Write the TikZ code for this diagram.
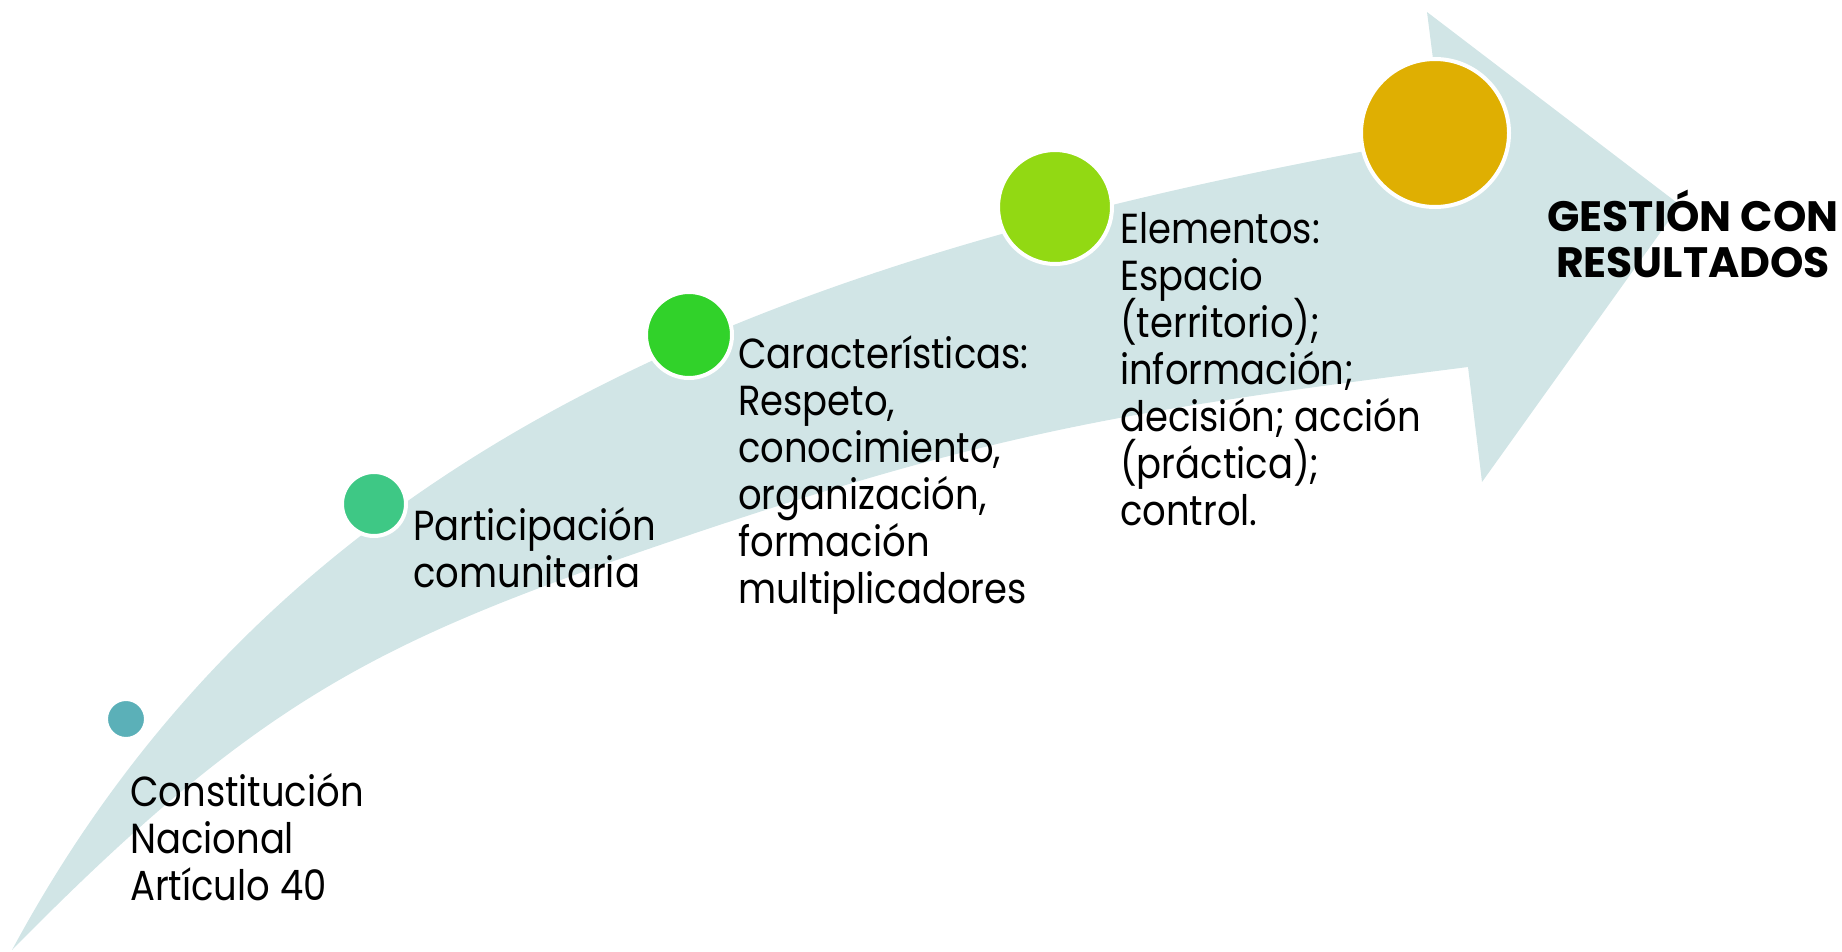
\documentclass[tikz,border=0pt]{standalone}
\usepackage{fontspec}
\setmainfont{Poppins}[FakeStretch=0.88]
\newfontfamily\goalfont{Poppins}
\newcommand\fixedlines{\lineskiplimit=-40pt\relax}
\definecolor{bandfill}{RGB}{209,229,230}
\definecolor{dotA}{RGB}{91,176,184}
\definecolor{dotB}{RGB}{62,200,133}
\definecolor{dotC}{RGB}{49,210,42}
\definecolor{dotD}{RGB}{146,217,19}
\definecolor{dotE}{RGB}{223,175,2}
\tikzset{
  stepdot/.style={circle, draw=white, line width=4pt, inner sep=0pt, minimum size=#1},
  steptext/.style={anchor=base west, align=left, inner sep=0pt, font={\fontsize{42}{47}\selectfont\fixedlines}},
  goaltext/.style={anchor=base, align=center, inner sep=0pt, font={\goalfont\bfseries\fontsize{42.5}{46}\selectfont\fixedlines}}
}

\begin{document}
\begin{tikzpicture}[x=1pt,y=-1pt]
\useasboundingbox (0,0) rectangle (1842,951);
% curved band ending in the arrow head
\fill[bandfill] (12,950) .. controls (292,430) and (799,249) .. (1443,137)
  -- (1427,12) -- (1680,205) -- (1482,482) -- (1468,367)
  .. controls (1122,411) and (991,432) .. (660,545)
  .. controls (376,642) and (257,701) .. (12,950) -- cycle;
% stages (text anchored on its last line)
\node[stepdot=40pt, fill=dotA] (c1) at (126,719) {};
\node[stepdot=64pt, fill=dotB] (c2) at (374,504) {};
\node[stepdot=86pt, fill=dotC] (c3) at (689,335) {};
\node[stepdot=114pt, fill=dotD] (c4) at (1055,207) {};
\node[stepdot=148pt, fill=dotE] (c5) at (1435,133) {};
\node[steptext] (t1) at (130,900) {Constitución\\Nacional\\Artículo 40};
\node[steptext] (t2) at (413,587) {Participación\\comunitaria};
\node[steptext] (t3) at (738,603) {Características:\\Respeto,\\conocimiento,\\organización,\\formación\\multiplicadores};
\node[steptext] (t4) at (1120,525) {Elementos:\\Espacio\\(territorio);\\información;\\decisión; acción\\(práctica);\\control.};
\node[goaltext] (t5) at (1693,277) {GESTIÓN CON\\RESULTADOS};
\end{tikzpicture}
\end{document}
